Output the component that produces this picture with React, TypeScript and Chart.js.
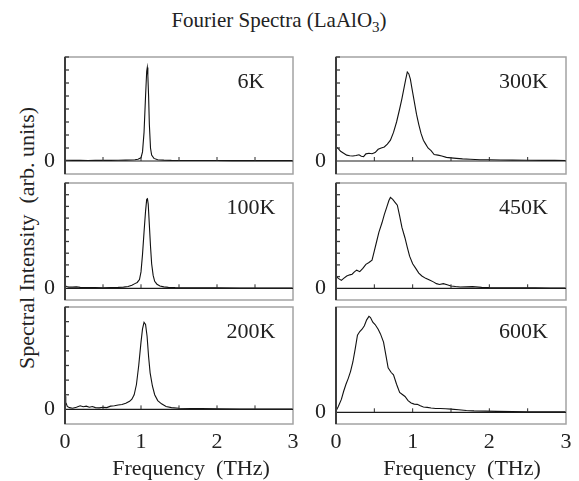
import React, { useEffect, useRef } from 'react';
import { Chart, registerables } from 'chart.js';

Chart.register(...registerables);

const FONT = '"Liberation Serif", "Times New Roman", serif';

// ---- data (frequency in THz, spectral intensity in arb. units) ----
const FREQ_6K = [0, 0.1, 0.2, 0.3, 0.4, 0.5, 0.6, 0.7, 0.8, 0.86, 0.92, 0.96, 1.0, 1.02, 1.04, 1.06, 1.075, 1.083, 1.09, 1.1, 1.11, 1.125, 1.14, 1.17, 1.22, 1.3, 1.4, 1.6, 1.8, 2.0, 2.2, 2.4, 2.6, 2.8, 3.0];
const INT_6K = [0.06, 0.05, 0.05, 0.04, 0.05, 0.05, 0.05, 0.06, 0.07, 0.08, 0.1, 0.14, 0.25, 0.7, 2.2, 5.0, 6.9, 7.2, 6.6, 5.0, 2.8, 1.0, 0.45, 0.2, 0.1, 0.07, 0.05, 0.04, 0.04, 0.04, 0.03, 0.03, 0.03, 0.03, 0.03];

const FREQ_100K = [0, 0.02, 0.05, 0.1, 0.15, 0.2, 0.3, 0.4, 0.5, 0.6, 0.7, 0.77, 0.83, 0.88, 0.92, 0.95, 0.98, 1.0, 1.02, 1.04, 1.06, 1.075, 1.085, 1.095, 1.11, 1.125, 1.14, 1.16, 1.18, 1.21, 1.25, 1.3, 1.36, 1.45, 1.6, 1.8, 2.0, 2.3, 2.6, 3.0];
const INT_100K = [0.22, 0.15, 0.1, 0.1, 0.12, 0.08, 0.06, 0.06, 0.05, 0.07, 0.08, 0.1, 0.16, 0.26, 0.4, 0.5, 0.75, 1.4, 2.9, 4.8, 6.6, 7.6, 7.65, 7.2, 5.4, 3.6, 2.1, 1.1, 0.6, 0.35, 0.2, 0.12, 0.08, 0.06, 0.05, 0.04, 0.04, 0.03, 0.03, 0.03];

const FREQ_200K = [0, 0.01, 0.03, 0.06, 0.1, 0.15, 0.2, 0.24, 0.28, 0.32, 0.36, 0.4, 0.45, 0.5, 0.55, 0.6, 0.65, 0.7, 0.75, 0.8, 0.85, 0.88, 0.91, 0.94, 0.97, 1.0, 1.02, 1.04, 1.06, 1.08, 1.1, 1.12, 1.15, 1.18, 1.22, 1.27, 1.33, 1.4, 1.5, 1.65, 1.8, 2.0, 2.3, 2.6, 3.0];
const INT_200K = [0.9, 0.5, 0.2, 0.12, 0.08, 0.15, 0.25, 0.18, 0.22, 0.15, 0.2, 0.12, 0.1, 0.14, 0.12, 0.22, 0.25, 0.3, 0.33, 0.42, 0.55, 0.7, 1.0, 1.7, 3.0, 4.6, 5.5, 5.95, 5.8, 5.0, 3.6, 2.5, 1.6, 1.0, 0.6, 0.38, 0.2, 0.12, 0.08, 0.06, 0.05, 0.04, 0.03, 0.03, 0.03];

const FREQ_300K = [0, 0.03, 0.06, 0.1, 0.14, 0.18, 0.22, 0.26, 0.3, 0.33, 0.36, 0.39, 0.43, 0.47, 0.51, 0.55, 0.59, 0.63, 0.67, 0.71, 0.75, 0.79, 0.83, 0.86, 0.89, 0.91, 0.93, 0.95, 0.97, 0.99, 1.02, 1.05, 1.08, 1.11, 1.14, 1.17, 1.2, 1.24, 1.28, 1.33, 1.38, 1.44, 1.5, 1.57, 1.65, 1.75, 1.88, 2.0, 2.15, 2.3, 2.5, 2.7, 2.85, 3.0];
const INT_300K = [1.1, 0.95, 0.75, 0.6, 0.45, 0.4, 0.38, 0.42, 0.48, 0.36, 0.33, 0.55, 0.6, 0.56, 0.65, 0.9, 1.0, 1.08, 1.3, 1.6, 2.2, 3.0, 4.0, 4.8, 5.7, 6.3, 6.85, 6.7, 6.3, 5.6, 4.6, 3.6, 2.8, 2.1, 1.6, 1.3, 1.0, 0.8, 0.5, 0.45, 0.38, 0.28, 0.24, 0.2, 0.16, 0.13, 0.1, 0.1, 0.08, 0.07, 0.06, 0.05, 0.06, 0.04];

const FREQ_450K = [0, 0.03, 0.07, 0.1, 0.14, 0.18, 0.21, 0.24, 0.27, 0.31, 0.35, 0.39, 0.43, 0.47, 0.5, 0.53, 0.56, 0.6, 0.63, 0.66, 0.69, 0.71, 0.74, 0.77, 0.8, 0.83, 0.86, 0.9, 0.93, 0.96, 1.0, 1.04, 1.08, 1.12, 1.17, 1.22, 1.27, 1.31, 1.35, 1.4, 1.45, 1.5, 1.56, 1.62, 1.7, 1.78, 1.9, 2.0, 2.2, 2.4, 2.6, 2.8, 3.0];
const INT_450K = [1.05, 0.85, 0.68, 0.85, 1.05, 1.15, 1.2, 1.4, 1.55, 1.42, 1.7, 2.05, 2.2, 2.4, 3.2, 4.0, 4.8, 5.6, 6.3, 6.9, 7.5, 7.77, 7.6, 7.35, 7.1, 6.2, 5.2, 4.3, 3.5, 2.75, 2.1, 1.7, 1.3, 1.05, 0.85, 0.7, 0.55, 0.4, 0.33, 0.4, 0.3, 0.2, 0.15, 0.11, 0.12, 0.14, 0.08, 0.06, 0.05, 0.04, 0.04, 0.03, 0.03];

const FREQ_600K = [0, 0.03, 0.07, 0.1, 0.13, 0.16, 0.19, 0.22, 0.25, 0.28, 0.31, 0.34, 0.37, 0.4, 0.43, 0.45, 0.48, 0.51, 0.55, 0.58, 0.62, 0.65, 0.68, 0.72, 0.75, 0.79, 0.83, 0.87, 0.9, 0.94, 0.98, 1.02, 1.06, 1.1, 1.14, 1.19, 1.24, 1.3, 1.36, 1.43, 1.5, 1.6, 1.7, 1.8, 1.95, 2.1, 2.3, 2.5, 2.7, 2.9, 3.0];
const INT_600K = [0.1, 0.5, 1.1, 1.8, 2.4, 2.9, 3.5, 4.3, 5.4, 6.6, 6.9, 7.1, 7.4, 7.9, 8.2, 8.1, 7.7, 7.5, 7.1, 6.7, 6.0, 4.9, 3.8, 3.4, 3.2, 2.4, 1.7, 1.5, 1.35, 1.0, 0.8, 0.7, 0.68, 0.55, 0.45, 0.42, 0.37, 0.33, 0.32, 0.3, 0.27, 0.22, 0.15, 0.12, 0.1, 0.08, 0.06, 0.05, 0.05, 0.04, 0.04];

const X_TICK_LABELS = ['0', '1', '2', '3'];
const Y_ZERO_LABEL = '0';
const X_TITLE = 'Frequency  (THz)';
const Y_TITLE = 'Spectral Intensity  (arb. units)';

type PanelDef = {
  label: string;
  freq: number[];
  values: number[];
  yMin: number;
  yMax: number;
  yTicks: boolean;
  col: number;
  row: number;
};

const PANELS: PanelDef[] = [
  { label: '6K', freq: FREQ_6K, values: INT_6K, yMin: -1, yMax: 8, yTicks: true, col: 0, row: 0 },
  { label: '100K', freq: FREQ_100K, values: INT_100K, yMin: -1, yMax: 9, yTicks: true, col: 0, row: 1 },
  { label: '200K', freq: FREQ_200K, values: INT_200K, yMin: -1, yMax: 7, yTicks: true, col: 0, row: 2 },
  { label: '300K', freq: FREQ_300K, values: INT_300K, yMin: -1, yMax: 8, yTicks: true, col: 1, row: 0 },
  { label: '450K', freq: FREQ_450K, values: INT_450K, yMin: -1, yMax: 9, yTicks: true, col: 1, row: 1 },
  { label: '600K', freq: FREQ_600K, values: INT_600K, yMin: -1, yMax: 9, yTicks: false, col: 1, row: 2 },
];

// ---- layout ----
const COL_LEFT = [65, 336];
const COL_WIDTH = [228, 230];
const ROW_TOP = [57, 183, 307];
const ROW_HEIGHT = 117;
const AXIS_W = 40;
const MARGIN_V = 30;
const MARGIN_R = 16;
const X_AXIS_H = 30;
const X_TITLE_CENTER = [191, 462];
const X_TITLE_Y = 468;

function Panel({ p }: { p: PanelDef }) {
  const ref = useRef<HTMLCanvasElement | null>(null);
  const bottom = p.row === 2;
  const L = COL_LEFT[p.col];
  const W = COL_WIDTH[p.col];
  const T = ROW_TOP[p.row];
  const H = ROW_HEIGHT;
  const cw = AXIS_W + W + MARGIN_R;
  const ch = MARGIN_V + H + (bottom ? X_AXIS_H : MARGIN_V);

  useEffect(() => {
    if (!ref.current) return;
    const framePlugin = {
      id: 'panelFrame',
      afterDatasetsDraw(chart: any) {
        const { ctx, chartArea: a, scales } = chart;
        const xs = scales.x;
        const ys = scales.y;
        const y0 = ys.getPixelForValue(0);
        const line = (x1: number, y1: number, x2: number, y2: number) => {
          ctx.beginPath();
          ctx.moveTo(x1, y1);
          ctx.lineTo(x2, y2);
          ctx.stroke();
        };
        ctx.save();
        // frame
        ctx.strokeStyle = '#a3a3a3';
        ctx.lineWidth = 1.5;
        ctx.strokeRect(a.left, a.top, a.right - a.left, a.bottom - a.top);
        // zero line
        ctx.strokeStyle = '#1c1c1c';
        ctx.lineWidth = 1.2;
        line(a.left, y0, a.right, y0);
        // left axis
        ctx.strokeStyle = '#3c3c3c';
        ctx.lineWidth = 2;
        line(a.left, a.top, a.left, a.bottom);
        // inward y ticks
        ctx.lineWidth = 1.3;
        if (p.yTicks) {
          for (const t of ys.ticks) {
            if (t.value > 0) {
              const py = ys.getPixelForValue(t.value);
              line(a.left, py, a.left + 4, py);
            }
          }
        }
        // x ticks on zero line
        ctx.strokeStyle = '#2a2a2a';
        ctx.lineWidth = 1;
        for (const t of xs.ticks) {
          if (t.value > 0 && t.value < 3) {
            const px = xs.getPixelForValue(t.value);
            line(px, y0, px, y0 - 4);
          }
        }
        // temperature label
        ctx.font = `22px ${FONT}`;
        ctx.fillStyle = '#222';
        ctx.textAlign = 'center';
        ctx.textBaseline = 'middle';
        ctx.fillText(p.label, a.left + (a.right - a.left) * 0.815, a.top + 25);
        ctx.restore();
      },
    };

    const n = Math.min(p.freq.length, p.values.length);
    const pts = [] as { x: number; y: number }[];
    for (let i = 0; i < n; i++) pts.push({ x: p.freq[i], y: p.values[i] });

    const chart = new Chart(ref.current, {
      type: 'line',
      data: {
        datasets: [
          {
            data: pts,
            borderColor: '#111',
            borderWidth: 1.1,
            pointRadius: 0,
            tension: 0,
            fill: false,
          },
        ],
      },
      options: {
        responsive: false,
        animation: false,
        events: [],
        layout: { padding: { left: 0, top: MARGIN_V, right: MARGIN_R, bottom: bottom ? 0 : MARGIN_V } },
        plugins: { legend: { display: false }, tooltip: { enabled: false } },
        scales: {
          x: {
            type: 'linear',
            min: 0,
            max: 3,
            grid: { display: false, drawTicks: false },
            border: { display: false },
            ticks: {
              display: bottom,
              stepSize: 0.5,
              autoSkip: false,
              maxRotation: 0,
              padding: 5,
              color: '#222',
              font: { family: FONT, size: 22 },
              callback: (v: any) => {
                const r = Math.round(Number(v));
                return Math.abs(Number(v) - r) < 1e-6 ? X_TICK_LABELS[r] : '';
              },
            },
            afterFit: (s: any) => {
              s.height = bottom ? X_AXIS_H : 0;
            },
          },
          y: {
            type: 'linear',
            min: p.yMin,
            max: p.yMax,
            grid: { display: false, drawTicks: false },
            border: { display: false },
            ticks: {
              stepSize: 1,
              autoSkip: false,
              padding: 10,
              color: '#222',
              font: { family: FONT, size: 22 },
              callback: (v: any) => (Number(v) === 0 ? Y_ZERO_LABEL : ''),
            },
            afterFit: (s: any) => {
              s.width = AXIS_W;
            },
          },
        },
      } as any,
      plugins: [framePlugin as any],
    });
    return () => chart.destroy();
  }, []);

  return (
    <canvas
      ref={ref}
      width={cw}
      height={ch}
      style={{ position: 'absolute', left: L - AXIS_W, top: T - MARGIN_V, width: cw, height: ch }}
    />
  );
}

export default function App() {
  return (
    <div
      style={{
        position: 'absolute',
        left: 0,
        top: 0,
        width: 579,
        height: 481,
        background: '#fff',
        fontFamily: FONT,
        color: '#222',
        overflow: 'hidden',
      }}
    >
      <div
        style={{
          position: 'absolute',
          left: 279,
          top: 8,
          transform: 'translateX(-50%)',
          fontSize: 21,
          lineHeight: '24px',
          whiteSpace: 'nowrap',
        }}
      >
        Fourier Spectra (LaAlO<span style={{ fontSize: 15, position: 'relative', top: 5 }}>3</span>)
      </div>
      <div
        style={{
          position: 'absolute',
          left: 27,
          top: 238,
          transform: 'translate(-50%, -50%) rotate(-90deg)',
          fontSize: 22,
          lineHeight: '26px',
          whiteSpace: 'pre',
        }}
      >
        {Y_TITLE}
      </div>
      {PANELS.map((p) => (
        <Panel key={p.label} p={p} />
      ))}
      {X_TITLE_CENTER.map((cx, i) => (
        <div
          key={'xt' + i}
          style={{
            position: 'absolute',
            left: cx,
            top: X_TITLE_Y,
            transform: 'translate(-50%, -50%)',
            fontSize: 22,
            lineHeight: '26px',
            whiteSpace: 'pre',
          }}
        >
          {X_TITLE}
        </div>
      ))}
    </div>
  );
}
